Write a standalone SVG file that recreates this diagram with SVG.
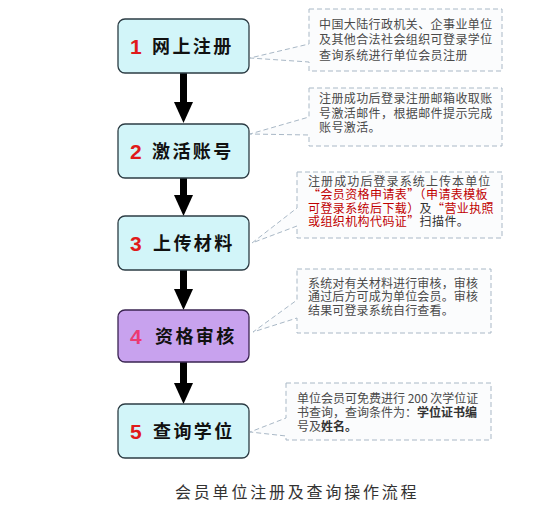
<svg xmlns="http://www.w3.org/2000/svg" width="538" height="512" viewBox="0 0 538 512">
<style>
.box{fill:#d2f5f9;stroke:#2c3c44;stroke-width:1.3}
.box4{fill:#c8a2ee;stroke:#3a2452;stroke-width:1.3}
.num{font-family:"Liberation Sans",Arial,sans-serif;font-weight:bold;font-size:21px;fill:#e01a1a}
.lbl{font-family:"Noto Sans CJK SC",sans-serif;font-weight:bold;font-size:18px;fill:#111;letter-spacing:2.4px}
.call{fill:#fbfcfd;stroke:#a9b8c6;stroke-width:1;stroke-dasharray:5 3}
.note{font-family:"Noto Sans CJK SC",sans-serif;font-size:12px;fill:#4a4a4a}
.red{fill:#c00000;font-weight:normal}
.b{font-weight:bold;fill:#333}
.d{fill:#333}
.cap{font-family:"Noto Sans CJK SC",sans-serif;font-size:16px;fill:#333;letter-spacing:2.8px}
</style>
<g id="connectors">
<g fill="#000">
<rect x="180" y="73" width="7" height="32"/><polygon points="174,102 193,102 183.5,123"/>
<rect x="180" y="178" width="7" height="20"/><polygon points="174,195 193,195 183.5,216"/>
<rect x="180" y="270" width="7" height="22"/><polygon points="174,289 193,289 183.5,310"/>
<rect x="180" y="362" width="7" height="24"/><polygon points="174,383 193,383 183.5,404"/>
</g>
</g>
<g id="node1">
<rect class="box" x="118" y="19" width="131" height="54" rx="7"/>
<text class="num" x="130" y="54">1</text>
<text class="lbl" x="152" y="53">网上注册</text>
</g>
<g id="node2">
<rect class="box" x="118" y="124" width="131" height="54" rx="7"/>
<text class="num" x="130" y="159">2</text>
<text class="lbl" x="152" y="158">激活账号</text>
</g>
<g id="node3">
<rect class="box" x="118" y="216" width="131" height="54" rx="7"/>
<text class="num" x="130" y="251">3</text>
<text class="lbl" x="153" y="250">上传材料</text>
</g>
<g id="node4">
<rect class="box4" x="118" y="310" width="131" height="52" rx="7"/>
<text class="num" x="130" y="344" style="fill:#ec3a72">4</text>
<text class="lbl" x="155" y="343">资格审核</text>
</g>
<g id="node5">
<rect class="box" x="118" y="404" width="131" height="54" rx="7"/>
<text class="num" x="130" y="439">5</text>
<text class="lbl" x="153" y="438">查询学位</text>
</g>
<g id="note1">
<path class="call" d="M309,9 H502 V71 H309 V62 L250,58 L309,44 Z"/>
<text class="note" x="319" y="28.5" letter-spacing="0.4">中国大陆行政机关、企事业单位</text>
<text class="note" x="319" y="44" letter-spacing="0.4">及其他合法社会组织可登录学位</text>
<text class="note" x="319" y="59.5" letter-spacing="0.4">查询系统进行单位会员注册</text>
</g>
<g id="note2">
<path class="call" d="M309,88 H502 V146 H309 V135 L250,134 L309,117 Z"/>
<text class="note" x="319" y="102.5" letter-spacing="0.4">注册成功后登录注册邮箱收取账</text>
<text class="note" x="319" y="117.5" letter-spacing="0.4">号激活邮件，根据邮件提示完成</text>
<text class="note" x="319" y="132" letter-spacing="0.4">账号激活。</text>
</g>
<g id="note3">
<path class="call" d="M297,172 H502 V238 H297 V226 L252,243 L297,208 Z"/>
<text class="note" x="308" y="185.5" letter-spacing="1.1">注册成功后登录系统上传本单位</text>
<text class="note red" x="308" y="198.5" letter-spacing="0.4">“会员资格申请表”（申请表模板</text>
<text class="note red" x="308" y="212.5" letter-spacing="0.4">可登录系统后下载）<tspan class="d">及</tspan>“营业执照</text>
<text class="note red" x="308" y="225.5" letter-spacing="0.4">或组织机构代码证”<tspan class="d">扫描件。</tspan></text>
</g>
<g id="note4">
<path class="call" d="M297,269 H491 V333 H297 V318 L253,332 L297,300 Z"/>
<text class="note" x="308" y="287.5" letter-spacing="0.15">系统对有关材料进行审核，审核</text>
<text class="note" x="308" y="300.5" letter-spacing="0.15">通过后方可成为单位会员。审核</text>
<text class="note" x="308" y="314.5" letter-spacing="0.15">结果可登录系统自行查看。</text>
</g>
<g id="note5">
<path class="call" d="M286,383 H491 V440 H286 V436 L250,432 L286,418 Z"/>
<text class="note" x="297" y="402.5">单位会员可免费进行 200 次学位证</text>
<text class="note" x="297" y="416.5">书查询，查询条件为：<tspan class="b">学位证书编</tspan></text>
<text class="note" x="297" y="430.5">号及<tspan class="b">姓名。</tspan></text>
</g>
<g id="caption">
<text class="cap" x="175" y="498">会员单位注册及查询操作流程</text>
</g>
</svg>
